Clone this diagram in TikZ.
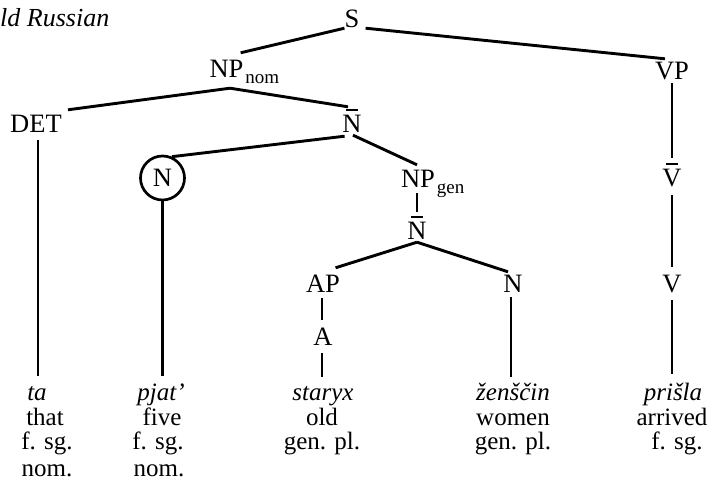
\documentclass[tikz,border=0pt]{standalone}
\usepackage{fontspec}
\setmainfont{Liberation Serif}
% category label with a short bar above it (N-bar, V-bar)
\newcommand\barred[1]{{\setbox0=\hbox{#1}\rlap{\hbox to\wd0{\hss\rule[22pt]{12pt}{1.9pt}\hss}}\box0}}
% case subscript set after a phrase label, not counted in its width
\newcommand\catsub[1]{\rlap{\kern2pt\raisebox{-6pt}{\fontsize{19}{19}\selectfont #1}}}
\begin{document}
\begin{tikzpicture}[x=1pt,y=-1pt,
  cat/.style={inner sep=0pt, text height=18pt, text depth=0pt,
    font=\fontsize{26.5}{26.5}\selectfont, anchor=base},
  word/.style={inner sep=0pt, text height=18pt, text depth=0pt,
    font=\fontsize{25}{25}\selectfont\itshape, anchor=base},
  gloss/.style={inner sep=0pt, font=\fontsize{25}{25}\selectfont, anchor=base},
  branch/.style={line width=2.9pt},
  head/.style={circle, draw, line width=2.7pt, minimum size=44pt, inner sep=0pt,
    font=\fontsize{26.5}{26.5}\selectfont}]
\useasboundingbox (0,0) rectangle (713,481);

% heading
\node[anchor=base west, inner sep=0pt, font=\fontsize{26}{26}\selectfont\itshape]
  (title) at (0,27) {ld Russian};

% categories
\node[cat] (s)     at (352,28)  {S};
\node[cat] (npnom) at (226.5,78) {NP\catsub{nom}};
\node[cat] (vp)    at (672,80)  {VP};
\node[cat] (det)   at (36,133)  {DET};
\node[cat] (nbar)  at (352,133) {\barred{N}};
\node[head] (ncirc) at (162.5,178) {N};
\node[cat] (npgen) at (418,188) {NP\catsub{gen}};
\node[cat] (vbar)  at (672,187) {\barred{V}};
\node[cat] (nbarb) at (417,240) {\barred{N}};
\node[cat] (ap)    at (323,293) {AP};
\node[cat] (nn)    at (513,293) {N};
\node[cat] (v)     at (672,293) {V};
\node[cat] (a)     at (323,345) {A};

% words
\node[word] (ta)     at (37,400)  {ta};
\node[word] (pjat)   at (161,400) {pjat’};
\node[word] (staryx) at (323,400) {staryx};
\node[word] (zensc)  at (513,400) {ženščin};
\node[word] (prisla) at (673,400) {prišla};

% glosses
\node[gloss] (g1a) at (45,425)  {that};
\node[gloss] (g1b) at (47,449)  {f. sg.};
\node[gloss] (g1c) at (47,476)  {nom.};
\node[gloss] (g2a) at (162,425) {five};
\node[gloss] (g2b) at (158,449) {f. sg.};
\node[gloss] (g2c) at (159,476) {nom.};
\node[gloss] (g3a) at (322,425) {old};
\node[gloss] (g3b) at (322,449) {gen. pl.};
\node[gloss] (g4a) at (513,425) {women};
\node[gloss] (g4b) at (513,449) {gen. pl.};
\node[gloss] (g5a) at (672,425) {arrived};
\node[gloss] (g5b) at (677,449) {f. sg.};

% branches
\draw[branch] (s.south west) -- ([xshift=-3pt,yshift=7pt]npnom.north east);
\draw[branch] ([xshift=6pt]s.south east) -- ([xshift=-7pt,yshift=3pt]vp.north);
\draw[branch] ([xshift=3.5pt,yshift=-10pt]npnom.south) -- ([xshift=6pt,yshift=5pt]det.north east);
\draw[branch] ([xshift=3.5pt,yshift=-10pt]npnom.south) -- ([xshift=-4pt,yshift=8pt]nbar.north);
\draw[branch] ([xshift=2.4pt,yshift=-3pt]nbar.south west) -- (ncirc.66);
\draw[branch] ([xshift=1pt,yshift=-2pt]nbar.south) -- ([xshift=-1pt,yshift=5pt]npgen.north);
\draw[branch] ([xshift=-1pt,yshift=-5pt]npgen.south) -- ([yshift=10pt]nbarb.north);
\draw[branch] ([yshift=-2pt]nbarb.south) -- ([xshift=-4.6pt,yshift=7pt]ap.north east);
\draw[branch] ([yshift=-2pt]nbarb.south) -- ([xshift=-5pt,yshift=3pt]nn.north);
\draw[branch] ([xshift=-1pt,yshift=-5pt]ap.south) -- ([xshift=-1pt,yshift=7pt]a.north);
\draw[branch] ([yshift=-3pt]vp.south) -- ([yshift=11pt]vbar.north);
\draw[branch] ([yshift=-8pt]vbar.south) -- ([yshift=8pt]v.north);

% branches down to the words
\draw[branch] ([xshift=2pt,yshift=-7pt]det.south) -- ([xshift=1pt,yshift=6pt]ta.north);
\draw[branch] (ncirc.south) -- ([xshift=1.5pt,yshift=6pt]pjat.north);
\draw[branch] ([xshift=-1pt,yshift=-8pt]a.south) -- ([xshift=-1pt,yshift=5pt]staryx.north);
\draw[branch] ([xshift=-2pt,yshift=-4pt]nn.south) -- ([xshift=-2pt,yshift=5pt]zensc.north);
\draw[branch] ([yshift=-7pt]v.south) -- ([xshift=-1pt,yshift=8pt]prisla.north);
\end{tikzpicture}
\end{document}
